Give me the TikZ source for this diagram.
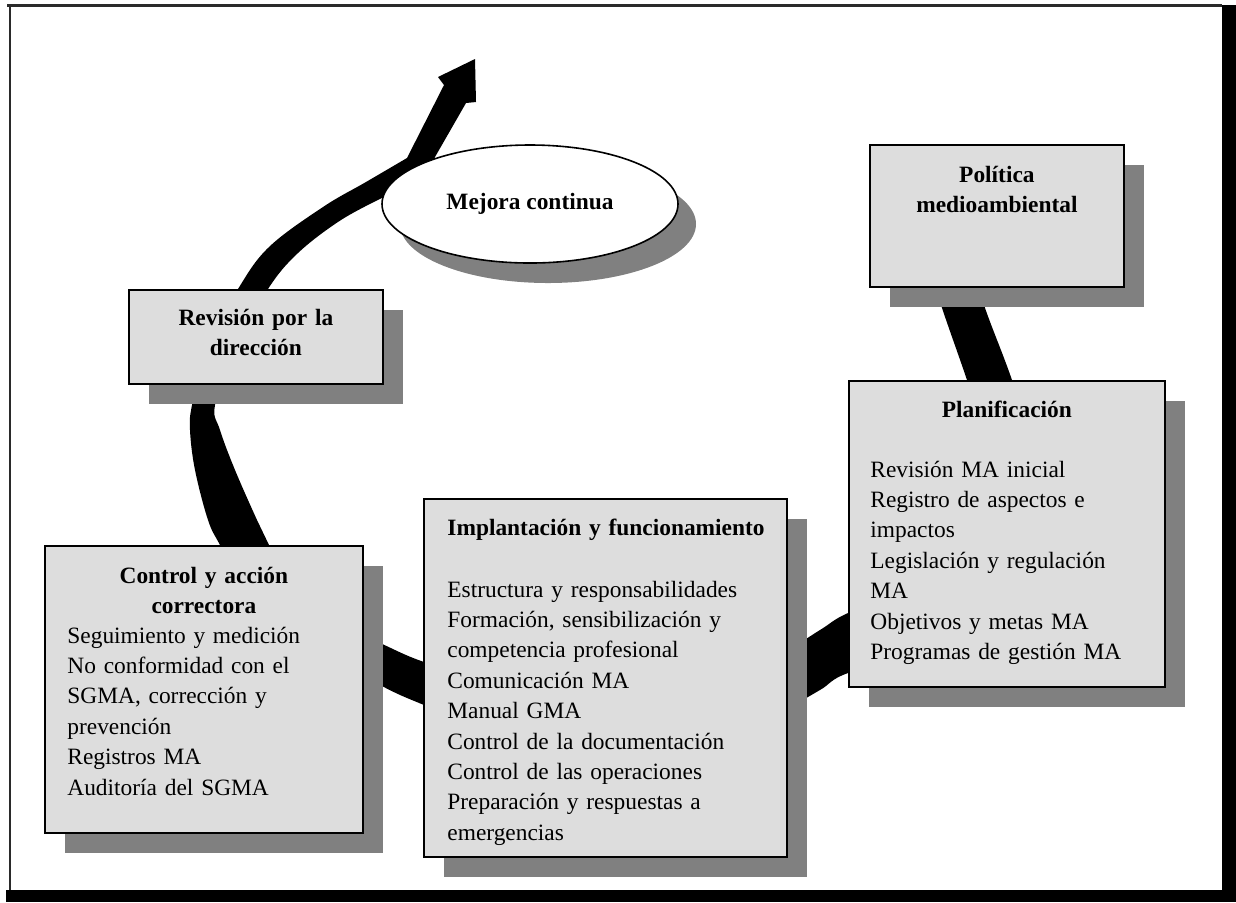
\documentclass[tikz,border=0pt]{standalone}
\usepackage{fontspec}
\setmainfont{Liberation Serif}
\usetikzlibrary{shapes.geometric,shadows,calc}
\pgfdeclarelayer{bg}
\pgfsetlayers{bg,main}
\definecolor{boxfill}{HTML}{DDDDDD}
\definecolor{shade}{HTML}{808080}
\definecolor{rim}{HTML}{2A2A2A}
\newcommand{\boxfont}{\fontsize{11.7pt}{15.2pt}\selectfont}
\tikzset{
  panel/.style={rectangle, draw=black, line width=0.9pt, fill=boxfill,
    inner sep=0pt, anchor=north west,
    drop shadow={shadow xshift=10pt, shadow yshift=-10pt, fill=shade, opacity=1}},
  title/.style={font=\boxfont\bfseries, align=center, inner sep=0pt, anchor=base},
  body/.style={font=\boxfont, align=left, inner sep=0pt, anchor=base west},
}
\begin{document}
\begin{tikzpicture}[x=0.5pt, y=-0.5pt]
\useasboundingbox (0,0) rectangle (1236,902);

% outer frame with its heavy right and bottom edges
\fill[black] (1222,5) rectangle (1236,902);
\fill[black] (6,890) rectangle (1236,902);
\draw[rim, line width=1.1pt] (7,5.5) -- (1222,5.5);
\draw[rim, line width=1pt] (9.5,5) -- (9.5,890);

% boxes of the cycle
\node[panel, minimum width=127pt, minimum height=71pt] (pol) at (869,144) {};
\node[panel, minimum width=127pt, minimum height=47pt] (rev) at (128,289) {};
\node[panel, minimum width=158pt, minimum height=153pt] (plan) at (848,380) {};
\node[panel, minimum width=181.5pt, minimum height=179pt] (imp) at (423,498) {};
\node[panel, minimum width=159pt, minimum height=143.5pt] (ctl) at (44,545) {};
\node[ellipse, draw=black, line width=0.8pt, fill=white, inner sep=0pt,
      minimum width=148pt, minimum height=59pt, font=\boxfont\bfseries,
      drop shadow={shadow xshift=9pt, shadow yshift=-10pt, fill=shade, opacity=1}]
      (mej) at (530,204) {Mejora continua};

% box texts
\node[title, text width=120pt] (pol-t) at ($(pol.north)+(0,38)$) {Política\\medioambiental};
\node[title, text width=120pt] (rev-t) at ($(rev.north)+(0,36)$) {Revisión por la\\dirección};
\node[title, text width=150pt] (plan-t) at ($(plan.north)+(0,37)$) {Planificación};
\node[body, text width=150pt] (plan-b) at ($(plan.north west)+(22,97)$)
  {Revisión MA inicial\\Registro de aspectos e\\impactos\\Legislación y regulación\\MA\\Objetivos y metas MA\\Programas de gestión MA};
\node[body, text width=170pt, font=\boxfont\bfseries] (imp-t) at ($(imp.north west)+(24,37)$)
  {Implantación y funcionamiento};
\node[body, text width=170pt] (imp-b) at ($(imp.north west)+(24,99)$)
  {Estructura y responsabilidades\\Formación, sensibilización y\\competencia profesional\\Comunicación MA\\Manual GMA\\Control de la documentación\\Control de las operaciones\\Preparación y respuestas a\\emergencias};
\node[title, text width=150pt] (ctl-t) at ($(ctl.north)+(0,38)$) {Control y acción\\correctora};
\node[body, text width=150pt] (ctl-b) at ($(ctl.north west)+(23,98)$)
  {Seguimiento y medición\\No conformidad con el\\SGMA, corrección y\\prevención\\Registros MA\\Auditoría del SGMA};

% the spiral band running behind the boxes, ending in the arrow
\begin{pgfonlayer}{bg}
\fill[black]
  plot[smooth, tension=0.6] coordinates {
    (963,240) (985,308) (1012,380) (1045,480) (1010,590) (930,650) (848,673)
    (820,690) (786,708) (700,745) (600,755) (500,735) (424,705) (380,685)
    (300,640) (245,590) (220,545) (208,520) (195,470) (190,430) (192,405)
    (205,350) (238,289) (269,247) (323,207) (366,182) (407,158)}
  -- (444,85) -- (438,77) -- (475,59) -- (476,102) -- (466,103) -- (435,157) -- (420,190)
  -- plot[smooth, tension=0.6] coordinates {
    (384,197) (341,220) (298,253) (268,289) (235,350) (215,405) (220,430)
    (235,470) (257,520) (269,545) (290,590) (330,620) (380,643) (424,662)
    (500,685) (600,700) (700,690) (786,650) (820,630) (848,613) (910,590)
    (965,540) (990,450) (967,380) (942,308) (920,240)}
  -- cycle;
\end{pgfonlayer}
\end{tikzpicture}
\end{document}
